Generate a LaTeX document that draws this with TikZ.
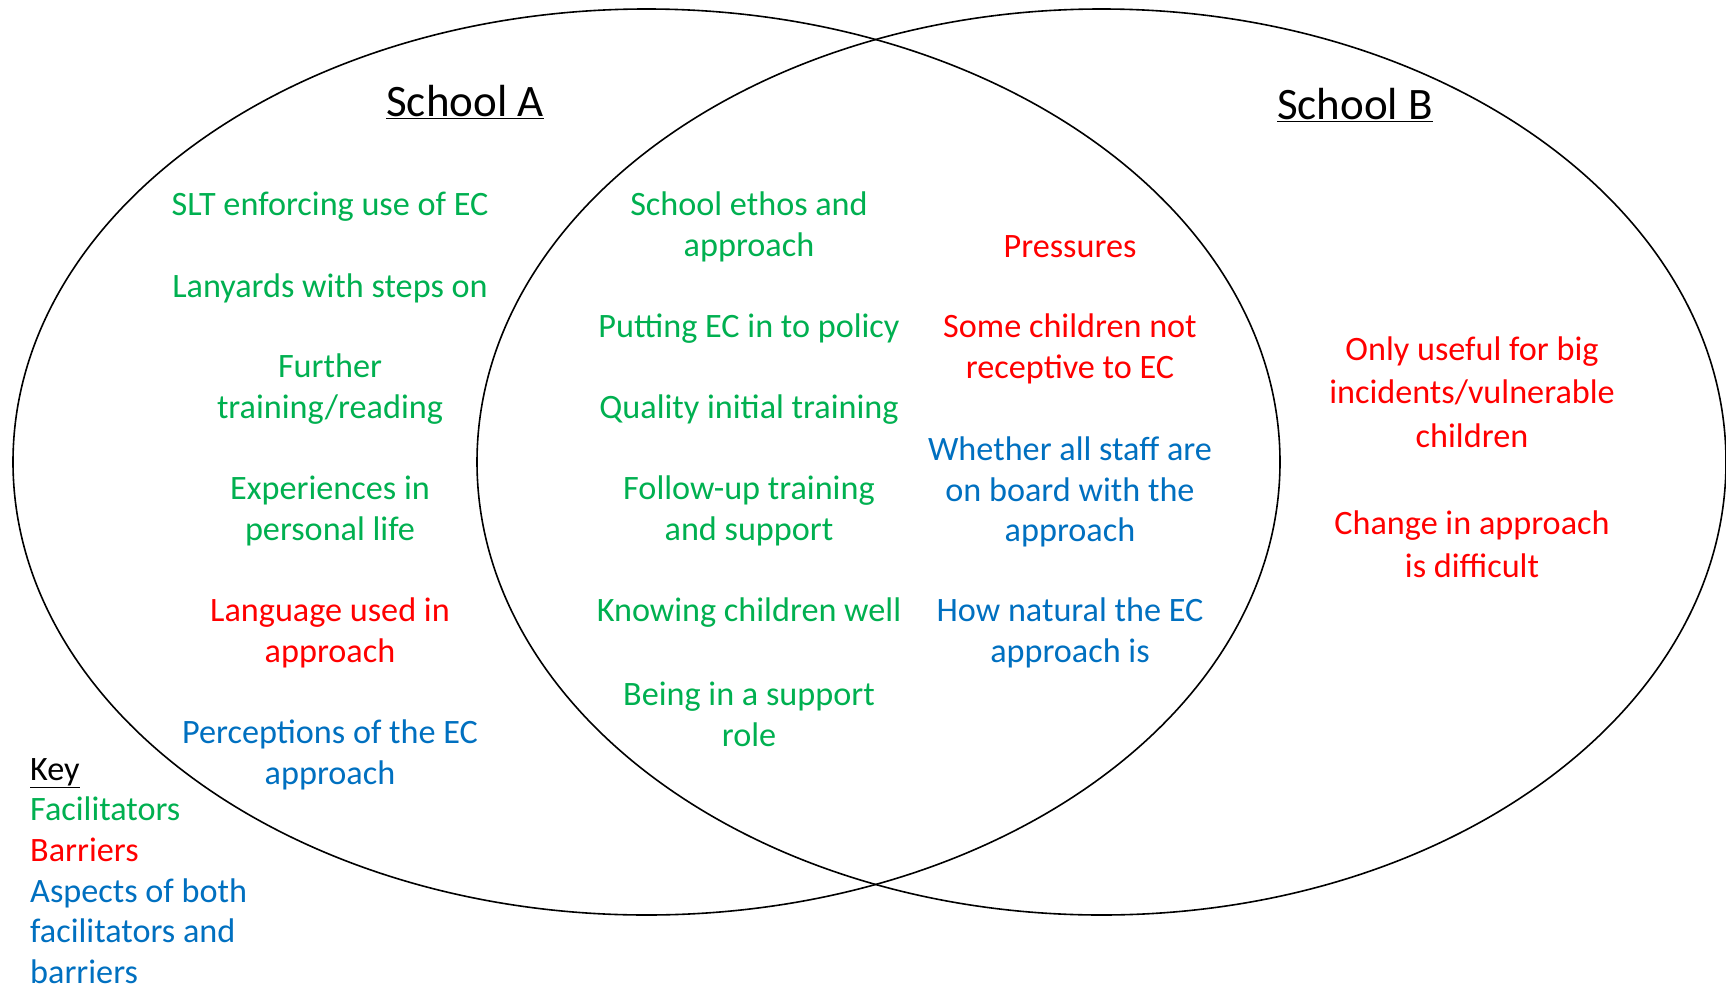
\documentclass[tikz,border=0pt]{standalone}
\usepackage{fontspec}
\setmainfont{Carlito}
\definecolor{fac}{HTML}{00B050}
\definecolor{bar}{HTML}{FF0000}
\definecolor{both}{HTML}{0070C0}
\tikzset{
  venn/.style={draw=black, line width=1.6pt},
  txt/.style={align=center, inner sep=0pt, font=\fontsize{34.2}{40.7}\selectfont},
  fac/.style={txt, text=fac},
  bar/.style={txt, text=bar},
  both/.style={txt, text=both},
  title/.style={inner sep=0pt, font=\fontsize{45}{54}\selectfont},
}
\begin{document}
\begin{tikzpicture}[x=1pt,y=-1pt]
\useasboundingbox[fill=white] (0,0) rectangle (1726,985);
\draw[venn] (646.5,462) ellipse [x radius=633.5pt, y radius=453pt];
\draw[venn] (1101.5,462) ellipse [x radius=624.5pt, y radius=453pt];

\node[title] (ta) at (465,102) {\underline{School A}};
\node[title] (tb) at (1355,105) {\underline{School B}};

% School A only
\node[fac] (a1) at (330,207) {SLT enforcing use of EC};
\node[fac] (a2) at (330,288) {Lanyards with steps on};
\node[fac] (a3) at (330,389) {Further\\training/reading};
\node[fac] (a4) at (330,511) {Experiences in\\personal life};
\node[bar] (a5) at (330,633) {Language used in\\approach};
\node[both] (a6) at (330,755) {Perceptions of the EC\\approach};

% shared, left column
\node[fac] (m1) at (749,227) {School ethos and\\approach};
\node[fac] (m2) at (749,329) {Putting EC in to policy};
\node[fac] (m3) at (749,410) {Quality initial training};
\node[fac] (m4) at (749,511) {Follow-up training\\and support};
\node[fac] (m5) at (749,613) {Knowing children well};
\node[fac] (m6) at (749,714) {Being in a support\\role};

% shared, right column
\node[bar] (n1) at (1070,247) {Pressures};
\node[bar] (n2) at (1070,349) {Some children not\\receptive to EC};
\node[both] (n3) at (1070,492) {Whether all staff are\\on board with the\\approach};
\node[both] (n4) at (1070,633) {How natural the EC\\approach is};

% School B only
\node[bar, font=\fontsize{34.2}{43.5}\selectfont] (b1) at (1472,392) {Only useful for big\\incidents/vulnerable\\children};
\node[bar, font=\fontsize{34.2}{43.5}\selectfont] (b2) at (1472,544) {Change in approach\\is difficult};

% key
\node[txt, align=left, anchor=west] (key) at (30,871) {\underline{Key}\\
\textcolor{fac}{Facilitators}\\
\textcolor{bar}{Barriers}\\
\textcolor{both}{Aspects of both}\\
\textcolor{both}{facilitators and}\\
\textcolor{both}{barriers}};
\end{tikzpicture}
\end{document}
